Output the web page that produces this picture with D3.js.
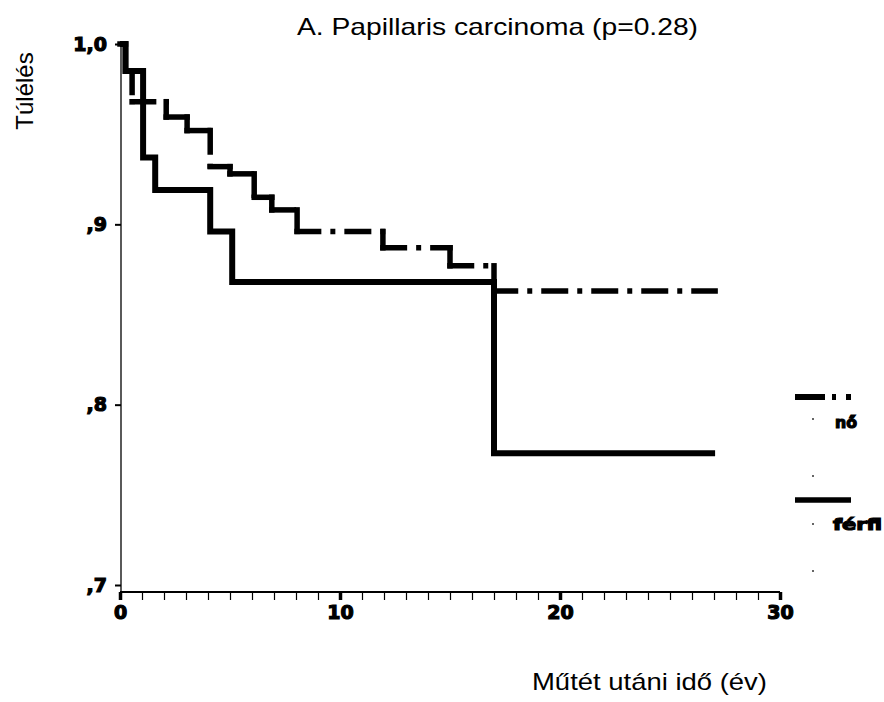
<!DOCTYPE html>
<html>
<head>
<meta charset="utf-8">
<script src="https://cdn.jsdelivr.net/npm/d3@7"></script>
<style>
  body { margin: 0; background: #fff; }
  svg { display: block; }
</style>
</head>
<body>
<div class="graph"></div>
<script>
// survival steps (time in years, cumulative survival)
const noTime   = [0, 0.25, 0.55, 2.1, 3.05, 4.1, 5.0, 6.1, 6.9, 8.05, 11.95, 15.0, 17.0, 27.05]
const noSurv   = [1.0, 0.985, 0.968, 0.9595, 0.952, 0.932, 0.928, 0.915, 0.908, 0.896, 0.887, 0.877, 0.863, 0.863]
const ferfiTime = [0, 0.25, 1.05, 1.6, 4.1, 5.1, 17.0, 27.05]
const ferfiSurv = [1.0, 0.985, 0.937, 0.919, 0.896, 0.868, 0.773, 0.773]

const yTicks = [1.0, 0.9, 0.8, 0.7]
const yTickLabels = ["1,0", ",9", ",8", ",7"]
const xMajor = [0, 10, 20, 30]
const legendNames = ["nő", "férfi"]

const w = 884
const h = 702

const x = d3.scaleLinear().domain([0, 30]).range([120, 780])
const y = d3.scaleLinear().domain([0.7, 1.0]).range([585, 44])
const axisY = 592

const svg = d3.select(".graph")
  .append("svg")
  .attr("width", w)
  .attr("height", h)
  .style("background", "#fff")

// title and axis titles
svg.append("text")
  .attr("x", 297).attr("y", 35)
  .attr("textLength", 401).attr("lengthAdjust", "spacingAndGlyphs")
  .style("font-family", "Liberation Sans, Arial, sans-serif")
  .style("font-size", "24px")
  .text("A. Papillaris carcinoma (p=0.28)")

svg.append("text")
  .attr("transform", "translate(33,91) rotate(-90)")
  .attr("text-anchor", "middle")
  .style("font-family", "Liberation Sans, Arial, sans-serif")
  .style("font-size", "24px")
  .text("Túlélés")

svg.append("text")
  .attr("x", 532).attr("y", 690)
  .attr("textLength", 235).attr("lengthAdjust", "spacingAndGlyphs")
  .style("font-family", "Liberation Sans, Arial, sans-serif")
  .style("font-size", "24px")
  .text("Műtét utáni idő (év)")

// heavy bitmap-like labels
function heavy(sel, size) {
  sel.style("font-family", "DejaVu Sans, sans-serif")
    .style("font-weight", "bold")
    .style("font-size", size + "px")
    .attr("stroke", "#000")
    .attr("stroke-width", 1.2)
    .attr("fill", "#000")
}

// y axis
const yAxis = d3.axisLeft(y).tickValues(yTicks)
  .tickFormat((d, i) => yTickLabels[i]).tickSize(6).tickPadding(8)
const gy = svg.append("g").attr("transform", "translate(121,0)").call(yAxis)
gy.select(".domain").attr("d", "M0," + (y(1.0) - 2) + "V" + axisY).attr("stroke", "#000").attr("stroke-width", 1.3)
gy.selectAll(".tick line").attr("stroke-width", 2)
gy.selectAll(".tick text").call(heavy, 19)

// x axis: minor ticks each year, major each ten
const xAxisMinor = d3.axisBottom(x).tickValues(d3.range(0, 31)).tickSize(8).tickFormat("")
const gxm = svg.append("g").attr("transform", "translate(0," + axisY + ")").call(xAxisMinor)
gxm.select(".domain").attr("d", "M" + x(0) + ",0H" + x(30)).attr("stroke-width", 2)
gxm.selectAll(".tick line").attr("stroke-width", 1.2)

const xAxisMajor = d3.axisBottom(x).tickValues(xMajor).tickSize(8).tickPadding(6)
const gx = svg.append("g").attr("transform", "translate(0," + axisY + ")").call(xAxisMajor)
gx.select(".domain").remove()
gx.selectAll(".tick line").attr("stroke-width", 3.5)
gx.selectAll(".tick text").call(heavy, 19)

// male curve: one solid step line
const line = d3.line()
  .x(d => x(d[0]))
  .y(d => y(d[1]))
  .curve(d3.curveStepAfter)

svg.append("path")
  .datum(ferfiTime.map((t, i) => [t, ferfiSurv[i]]))
  .attr("d", line)
  .attr("fill", "none")
  .attr("stroke", "#000")
  .attr("stroke-width", 6)

// female curve: every horizontal and vertical piece restarts the dash-dot pattern
const sw = 5.5
const segs = []
for (let i = 0; i < noTime.length - 1; i++) {
  segs.push([x(noTime[i]) - sw / 2, y(noSurv[i]), x(noTime[i + 1]) + sw / 2, y(noSurv[i])])
  if (noSurv[i + 1] != noSurv[i]) {
    segs.push([x(noTime[i + 1]), y(noSurv[i]) - sw / 2, x(noTime[i + 1]), y(noSurv[i + 1]) + sw / 2])
  }
}
svg.selectAll("line.no")
  .data(segs)
  .enter()
  .append("line")
  .attr("class", "no")
  .attr("x1", d => d[0]).attr("y1", d => d[1])
  .attr("x2", d => d[2]).attr("y2", d => d[3])
  .attr("stroke", "#000")
  .attr("stroke-width", sw)
  .attr("stroke-dasharray", "27,9,5,9")

// legend
const lg = svg.append("g")
lg.append("line")
  .attr("x1", 795).attr("x2", 851).attr("y1", 397).attr("y2", 397)
  .attr("stroke", "#000").attr("stroke-width", 6)
  .attr("stroke-dasharray", "30,7,4,10,5")
lg.append("line")
  .attr("x1", 795).attr("x2", 851).attr("y1", 500).attr("y2", 500)
  .attr("stroke", "#000").attr("stroke-width", 5.5)

lg.selectAll("text.lab")
  .data(legendNames)
  .enter()
  .append("text")
  .attr("class", "lab")
  .attr("x", (d, i) => i == 0 ? 835 : 833)
  .attr("y", (d, i) => i == 0 ? 428 : 530)
  .attr("textLength", (d, i) => i == 0 ? 22 : 49)
  .attr("lengthAdjust", "spacingAndGlyphs")
  .call(heavy, 16)
  .text(d => d)

// little specks next to the legend entries
lg.selectAll("rect.speck")
  .data([418, 475, 523, 570])
  .enter()
  .append("rect")
  .attr("class", "speck")
  .attr("x", 812).attr("y", d => d)
  .attr("width", 2).attr("height", 2)
  .attr("fill", "#666")
</script>
</body>
</html>
